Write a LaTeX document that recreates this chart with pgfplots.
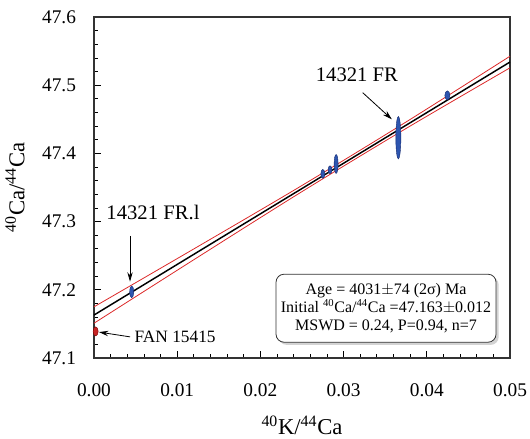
\documentclass[border=0pt]{standalone}
\usepackage{fontspec}
\setmainfont{Liberation Serif}
\usepackage{pgfplots}
\pgfplotsset{compat=1.18}
\usetikzlibrary{shadows,arrows.meta}
\definecolor{ellblue}{RGB}{45,85,175}
\definecolor{elledge}{RGB}{20,40,110}
\definecolor{envred}{RGB}{220,40,40}
\begin{document}
\begin{tikzpicture}
\path[use as bounding box] (-70.5pt,-60pt) rectangle (327pt,268.5pt);
\begin{axis}[at={(0,0)}, anchor=south west, scale only axis,
  width=312pt, height=255.75pt,
  xmin=0, xmax=0.05, ymin=47.1, ymax=47.6,
  xtick={0,0.01,0.02,0.03,0.04,0.05},
  ytick={47.1,47.2,47.3,47.4,47.5,47.6},
  minor x tick num=4, minor y tick num=4,
  tick align=inside, tick pos=left,
  major tick length=5pt, minor tick length=3pt,
  tick style={black, line width=0.6pt},
  axis line style={black!80, line width=0.8pt},
  scaled x ticks=false, scaled y ticks=false,
  /pgf/number format/assume math mode=true,
  xticklabel style={/pgf/number format/.cd, fixed, fixed zerofill, precision=2, /tikz/.cd, font=\fontsize{14.5}{16}\selectfont, yshift=-16pt},
  yticklabel style={/pgf/number format/.cd, fixed, fixed zerofill, precision=1, /tikz/.cd, font=\fontsize{14.5}{16}\selectfont, xshift=-10pt},
  xlabel={\textsuperscript{40}K/\textsuperscript{44}Ca},
  ylabel={\textsuperscript{40}Ca/\textsuperscript{44}Ca},
  xlabel style={at={(axis description cs:0.5,-0.197)}, anchor=center, font=\fontsize{17}{19}\selectfont},
  ylabel style={at={(axis description cs:-0.19,0.5)}, anchor=center, font=\fontsize{17}{19}\selectfont},
]
% envelope
\addplot[envred, line width=0.6pt, smooth] coordinates {(0,47.175) (0.0125,47.2635) (0.025,47.353) (0.0375,47.446) (0.05,47.5425)};
\addplot[envred, line width=0.6pt, smooth] coordinates {(0,47.151) (0.0125,47.248) (0.025,47.344) (0.0375,47.4365) (0.05,47.5255)};
% best fit
\addplot[black, line width=1.1pt] coordinates {(0,47.163) (0.05,47.534)};
% data ellipses
\addplot[only marks, mark=*, mark size=1.9pt, mark options={yscale=1.8, fill=envred!90!black, draw=red!50!black, line width=0.3pt}] coordinates {(0.0002,47.139)};
\addplot[only marks, mark=*, mark size=1.5pt, mark options={yscale=3, fill=ellblue, draw=elledge, line width=0.3pt}] coordinates {(0.00453,47.197)};
\addplot[only marks, mark=*, mark size=1.5pt, mark options={yscale=2.25, fill=ellblue, draw=elledge, line width=0.3pt}] coordinates {(0.0275,47.370)};
\addplot[only marks, mark=*, mark size=1.5pt, mark options={yscale=2, fill=ellblue, draw=elledge, line width=0.3pt}] coordinates {(0.02837,47.376)};
\addplot[only marks, mark=*, mark size=1.5pt, mark options={yscale=4.75, fill=ellblue, draw=elledge, line width=0.3pt}] coordinates {(0.0291,47.3845)};
\addplot[only marks, mark=*, mark size=1.9pt, mark options={yscale=8.4, fill=ellblue, draw=elledge, line width=0.3pt}] coordinates {(0.03658,47.423)};
\addplot[only marks, mark=*, mark size=1.9pt, mark options={yscale=1.8, fill=ellblue, draw=elledge, line width=0.3pt}] coordinates {(0.04247,47.485)};
% annotations
\node[font=\fontsize{15.5}{17}\selectfont] at (axis cs:0.0316,47.515) {14321 FR};
\draw[-{Stealth[length=7pt,width=4pt]}, line width=0.6pt] (axis cs:0.0323,47.489) -- (axis cs:0.0358,47.45);
\node[font=\fontsize{15.5}{17}\selectfont] at (axis cs:0.00709,47.313) {14321 FR.l};
\draw[-{Stealth[length=7pt,width=4pt]}, line width=0.6pt] (axis cs:0.00433,47.279) -- (axis cs:0.00433,47.212);
\node[font=\fontsize{13}{15}\selectfont, anchor=west, inner sep=1pt] at (axis cs:0.00469,47.131) {FAN 15415};
\draw[-{Stealth[length=7pt,width=4pt]}, line width=0.6pt] (axis cs:0.00433,47.131) -- (axis cs:0.0006,47.138);
\node[draw=black!80, line width=0.6pt, rounded corners=6pt, fill=white, drop shadow={opacity=0.35, shadow xshift=2pt, shadow yshift=-2pt},
  align=center, minimum width=165pt, minimum height=51pt, font=\fontsize{12}{13.5}\selectfont] at (axis cs:0.0351,47.173)
  {Age = 4031$\pm$74 (2σ) Ma\\Initial \textsuperscript{40}Ca/\textsuperscript{44}Ca =47.163$\pm$0.012\\MSWD = 0.24, P=0.94, n=7};
\end{axis}
\end{tikzpicture}
\end{document}
